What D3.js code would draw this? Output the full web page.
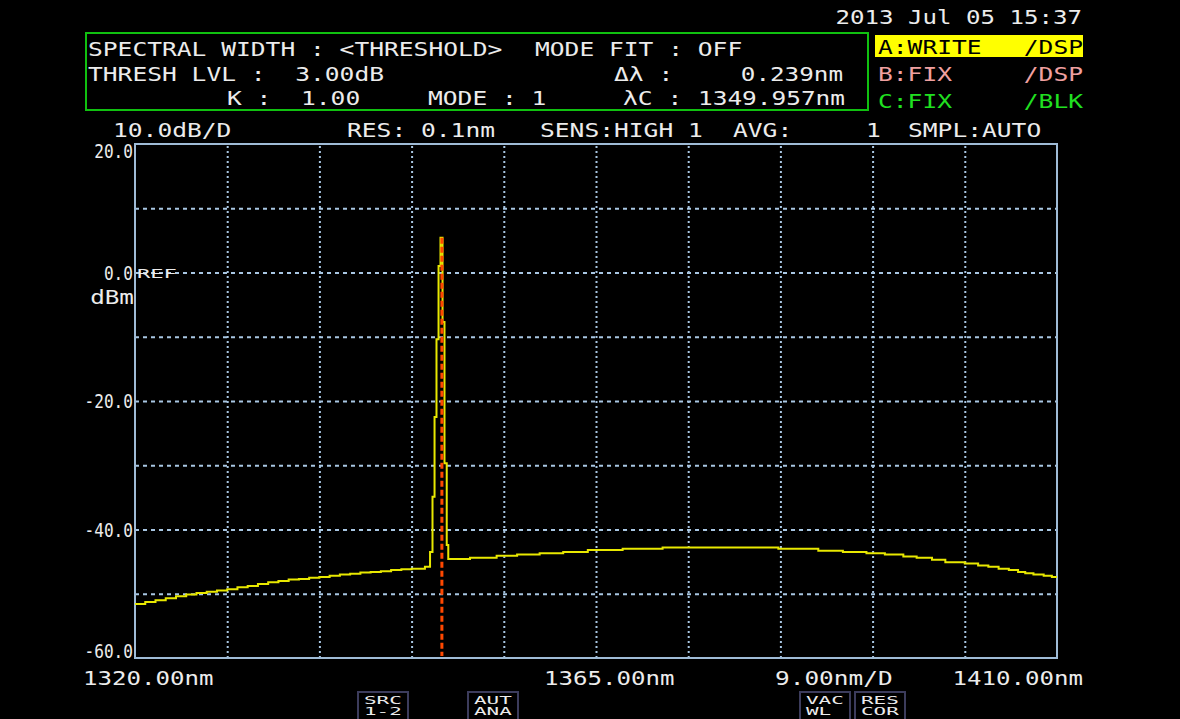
<!DOCTYPE html>
<html>
<head>
<meta charset="utf-8">
<script src="https://cdn.jsdelivr.net/npm/d3@7"></script>
<style>
body { margin: 0; background: #000; }
text { font-family: "DejaVu Sans Mono", monospace; white-space: pre; }
</style>
</head>
<body>
<div id="pantalla"></div>
<script>
var wavelengths = [
    1320.0, 1321.0, 1322.0, 1323.0, 1324.0, 1325.0, 1326.0, 1327.0, 1328.0, 1329.0,
    1330.0, 1331.0, 1332.0, 1333.0, 1334.0, 1335.0, 1336.0, 1337.0, 1338.0, 1339.0,
    1340.0, 1341.0, 1342.0, 1343.0, 1344.0, 1345.0, 1346.0, 1347.0, 1348.3,
    1348.80, 1349.04, 1349.24, 1349.43, 1349.63, 1349.82, 1350.02, 1350.21, 1350.43, 1350.58,
    1352.7, 1355.3, 1357.3, 1359.5, 1361.8, 1364.2, 1367.6, 1371.5,
    1382.8, 1386.7, 1389.1, 1391.4, 1393.2, 1395.0, 1396.3, 1397.8, 1399.1, 1401.0,
    1402.3, 1403.3, 1404.3, 1405.3, 1406.2, 1406.9, 1407.7, 1408.7, 1409.5, 1410.0
];
var levels = [
    -51.6, -51.3, -51.0, -50.7, -50.4, -50.1, -49.9, -49.7, -49.5, -49.3,
    -49.0, -48.8, -48.5, -48.2, -48.0, -47.8, -47.7, -47.5, -47.4, -47.2,
    -47.0, -46.9, -46.7, -46.6, -46.5, -46.3, -46.2, -46.1, -45.8,
    -43.5, -34.9, -22.5, -10.4, 1.0, 5.4, -7.7, -29.7, -42.4, -44.6,
    -44.4, -44.1, -43.9, -43.7, -43.5, -43.2, -43.0, -42.8,
    -43.0, -43.3, -43.5, -43.7, -43.9, -44.2, -44.4, -44.7, -45.1, -45.3,
    -45.6, -45.8, -46.1, -46.3, -46.6, -46.8, -47.0, -47.2, -47.4, -47.4
];
var centerWl = 1349.957;

var xGridTicks = [1329, 1338, 1347, 1356, 1365, 1374, 1383, 1392, 1401];
var yGridTicks = [10, 0, -10, -20, -30, -40, -50];
var yLabelTicks = [20, 0, -20, -40, -60];
var xLabelValues = [1320, 1365, 1410];
var xLabelTexts = ["1320.00nm", "1365.00nm", "1410.00nm"];

var W = 1180, H = 719;
var izq = 135, der = 1057, arriba = 144, abajo = 658;
var cw = 14.8;          // ancho de caracter de la fuente del equipo
var blanco = "#ececec";
var rejilla = "#a8c6e2";

var svg = d3.select("#pantalla").append("svg")
    .attr("width", W)
    .attr("height", H)
    .style("display", "block")
    .style("background", "#000");

var x = d3.scaleLinear().domain([1320, 1410]).range([izq, der]);
var y = d3.scaleLinear().domain([-60, 20]).range([abajo, arriba]);

function texto(s, px, py, opts) {
    opts = opts || {};
    var w = opts.cw || cw;
    return svg.append("text")
        .attr("x", px)
        .attr("y", py)
        .attr("xml:space", "preserve")
        .attr("font-size", opts.size || 19)
        .attr("text-anchor", opts.anchor || "start")
        .attr("fill", opts.fill || blanco)
        .attr("textLength", s.length * w)
        .attr("lengthAdjust", "spacingAndGlyphs")
        .text(s);
}

// ---- cabecera ----
texto("2013 Jul 05 15:37", 1082, 24, { anchor: "end", cw: 14.5 });

svg.append("rect")
    .attr("x", 86).attr("y", 33)
    .attr("width", 782).attr("height", 77)
    .attr("fill", "none")
    .attr("stroke", "#10c010")
    .attr("stroke-width", 2);

texto("SPECTRAL WIDTH : <THRESHOLD>", 88, 56);
texto("MODE FIT : OFF", 535, 56);
texto("THRESH LVL :  3.00dB", 88, 81);
texto("\u0394\u03bb :", 614, 81);
texto("0.239nm", 843, 81, { anchor: "end", cw: 14.6 });
texto("K :  1.00", 227, 105);
texto("MODE : 1", 428, 105);
texto("\u03bbC :", 623, 105);
texto("1349.957nm", 845, 105, { anchor: "end", cw: 14.7 });

svg.append("rect")
    .attr("x", 875).attr("y", 35)
    .attr("width", 208).attr("height", 22)
    .attr("fill", "#ffff00");
texto("A:WRITE", 878, 54, { fill: "#000" });
texto("/DSP", 1083, 54, { anchor: "end", fill: "#000" });
texto("B:FIX", 878, 81, { fill: "#f0a0a0" });
texto("/DSP", 1083, 81, { anchor: "end", fill: "#f0a0a0" });
texto("C:FIX", 878, 108, { fill: "#20e020" });
texto("/BLK", 1083, 108, { anchor: "end", fill: "#20e020" });

texto("10.0dB/D", 113, 137);
texto("RES: 0.1nm", 347, 137);
texto("SENS:HIGH 1", 540, 137);
texto("AVG:", 733, 137);
texto("1", 866, 137);
texto("SMPL:AUTO", 908, 137);

// ---- rejilla ----
var gx = svg.append("g")
    .attr("transform", "translate(0," + abajo + ")")
    .call(d3.axisBottom(x).tickValues(xGridTicks).tickSize(-(abajo - arriba)).tickFormat(""));
gx.select(".domain").remove();
gx.selectAll("line")
    .attr("stroke", rejilla)
    .attr("stroke-width", 2)
    .attr("stroke-dasharray", "2,3");

var gy = svg.append("g")
    .attr("transform", "translate(" + izq + ",0)")
    .call(d3.axisLeft(y).tickValues(yGridTicks).tickSize(-(der - izq)).tickFormat(""));
gy.select(".domain").remove();
gy.selectAll("line")
    .attr("stroke", rejilla)
    .attr("stroke-width", 2)
    .attr("stroke-dasharray", "4,4");

svg.append("rect")
    .attr("x", izq).attr("y", arriba)
    .attr("width", der - izq).attr("height", abajo - arriba)
    .attr("fill", "none")
    .attr("stroke", "#9fbbd6")
    .attr("stroke-width", 2);

// ---- etiquetas eje Y ----
var ly = svg.append("g")
    .attr("transform", "translate(" + (izq - 1) + ",0)")
    .call(d3.axisLeft(y).tickValues(yLabelTicks).tickSize(0).tickPadding(1)
        .tickFormat(function (d) { return d.toFixed(1); }));
ly.select(".domain").remove();
ly.selectAll("text")
    .attr("font-family", "DejaVu Sans Mono")
    .attr("font-size", 19)
    .attr("fill", blanco)
    .attr("textLength", function (d) { return d.toFixed(1).length * 9.7; })
    .attr("lengthAdjust", "spacingAndGlyphs")
    .attr("dy", function (d) {
        if (d === 20) return "0.72em";
        if (d === -60) return "-0.05em";
        return "0.36em";
    });

texto("dBm", izq - 1, y(0) + 31, { anchor: "end", cw: 14.6 });
texto("REF", izq + 2, y(0) + 5, { size: 13, cw: 13.3 });

// ---- traza ----
var datos = d3.zip(wavelengths, levels);
var linea = d3.line()
    .x(function (d) { return x(d[0]); })
    .y(function (d) { return y(d[1]); })
    .curve(d3.curveStepAfter);

svg.append("path")
    .datum(datos)
    .attr("d", linea)
    .attr("fill", "none")
    .attr("stroke", "#e8e800")
    .attr("stroke-width", 2);

// marcador de lambda central
svg.append("line")
    .attr("x1", x(centerWl)).attr("x2", x(centerWl))
    .attr("y1", y(d3.max(levels))).attr("y2", abajo - 2)
    .attr("stroke", "#ff4800")
    .attr("stroke-width", 3)
    .attr("stroke-dasharray", "6,3");

// ---- etiquetas eje X ----
xLabelValues.forEach(function (v, i) {
    if (i < xLabelValues.length - 1) {
        texto(xLabelTexts[i], x(v) - 52, 685, { cw: 14.5 });
    } else {
        texto(xLabelTexts[i], x(v) + 26, 685, { anchor: "end", cw: 14.5 });
    }
});
texto("9.00nm/D", 775, 685, { cw: 14.7 });

// ---- teclas inferiores ----
var teclas = [
    { x: 358, a: "SRC", b: "1-2" },
    { x: 468, a: "AUT", b: "ANA" },
    { x: 800, a: "VAC", b: "WL" },
    { x: 855, a: "RES", b: "COR" }
];
teclas.forEach(function (t) {
    svg.append("rect")
        .attr("x", t.x).attr("y", 692)
        .attr("width", 50).attr("height", 30)
        .attr("fill", "none")
        .attr("stroke", "#3c3c5c")
        .attr("stroke-width", 2);
    texto(t.a, t.x + 6, 704, { size: 11, cw: 12.6 });
    texto(t.b, t.x + 6, 715, { size: 11, cw: 12.6 });
});
</script>
</body>
</html>
